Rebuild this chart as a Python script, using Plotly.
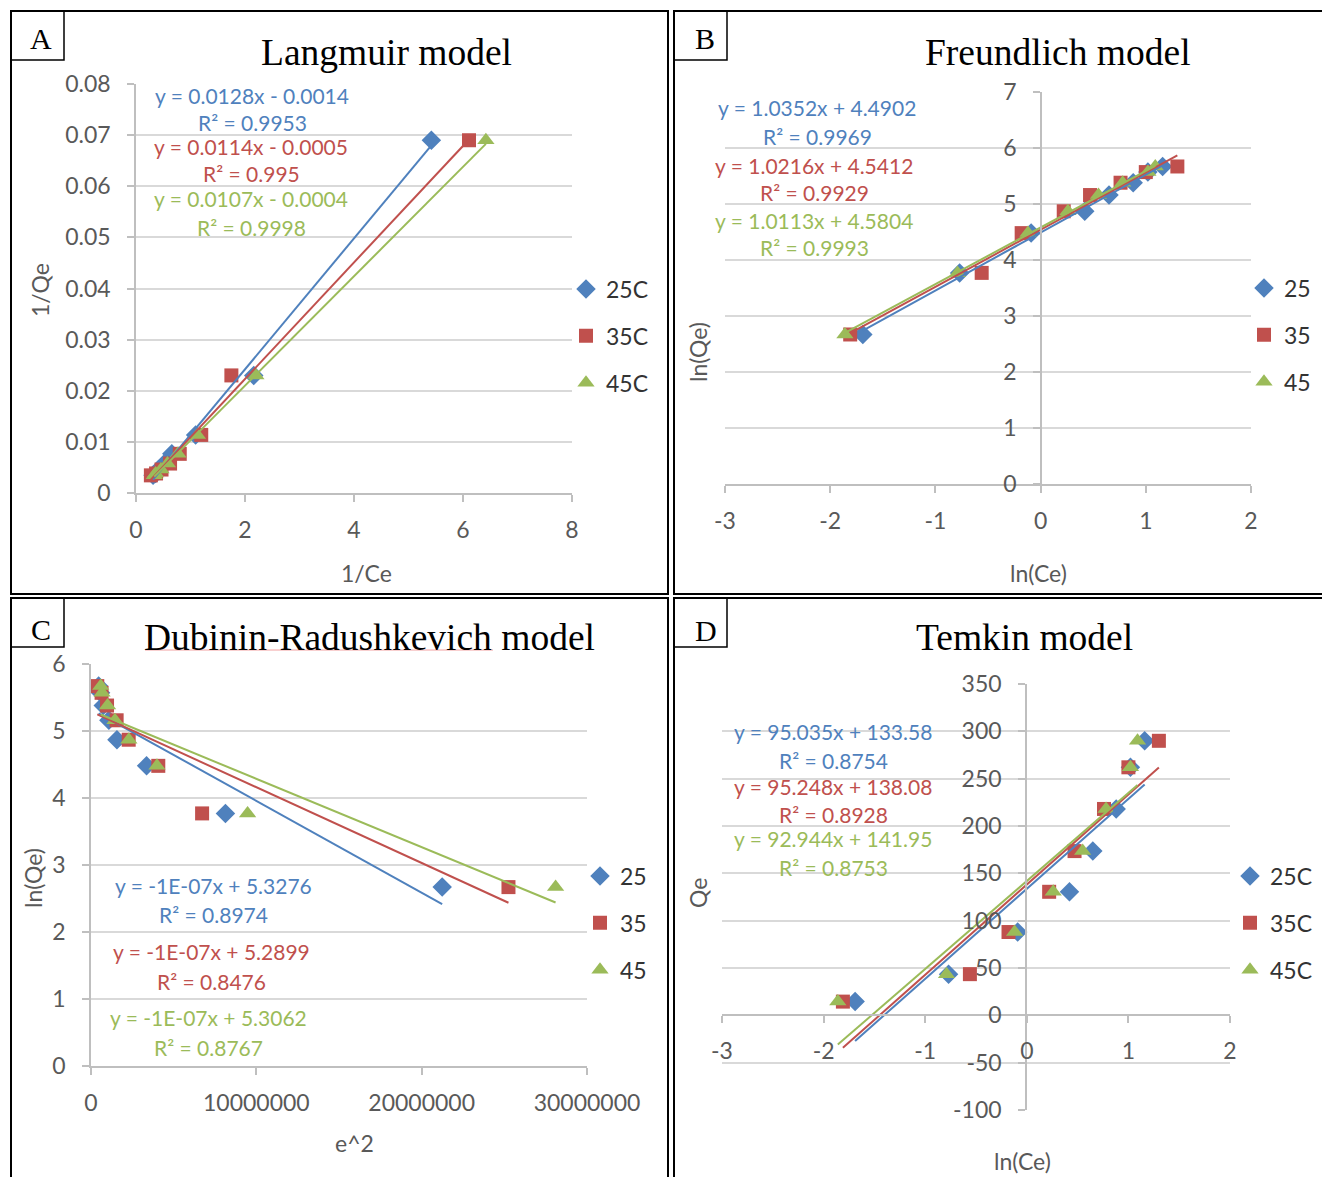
import plotly.graph_objects as go

W, H = 1322, 1177

# ---------------------------------------------------------------------------
# Data
# ---------------------------------------------------------------------------
series_names_c = ["25C", "35C", "45C"]
series_names = ["25", "35", "45"]
colors = ["#4F81BD", "#C0504D", "#9BBB59"]
symbols = ["diamond", "square", "triangle-up"]
marker_sizes = [15, 14, 15]

# Langmuir: 1/Ce vs 1/Qe
inv_ce_25 = [5.42, 2.16, 1.094, 0.657, 0.522, 0.415, 0.361, 0.313]
inv_ce_35 = [6.11, 1.75, 1.197, 0.803, 0.625, 0.468, 0.368, 0.273]
inv_ce_45 = [6.42, 2.20, 1.127, 0.771, 0.577, 0.458, 0.361, 0.336]
inv_qe = [0.0690, 0.0230, 0.01136, 0.00766, 0.00576, 0.00459, 0.00382, 0.00345]

# Freundlich / Temkin: ln(Ce)
ln_ce_25 = [-1.69, -0.77, -0.09, 0.42, 0.65, 0.88, 1.02, 1.16]
ln_ce_35 = [-1.81, -0.56, -0.18, 0.22, 0.47, 0.76, 1.00, 1.30]
ln_ce_45 = [-1.86, -0.79, -0.12, 0.26, 0.55, 0.78, 1.02, 1.09]
ln_qe = [2.67, 3.77, 4.48, 4.87, 5.16, 5.38, 5.57, 5.67]
qe = [14.5, 43.5, 88, 130.5, 173.5, 218, 262, 290]

# Dubinin-Radushkevich: epsilon^2
eps2_25 = [21.24e6, 8.13e6, 3.36e6, 1.57e6, 1.08e6, 0.74e6, 0.58e6, 0.46e6]
eps2_35 = [25.25e6, 6.72e6, 4.07e6, 2.28e6, 1.55e6, 0.97e6, 0.64e6, 0.38e6]
eps2_45 = [28.10e6, 9.47e6, 3.99e6, 2.29e6, 1.45e6, 1.00e6, 0.67e6, 0.59e6]

# Linear fits (slope, intercept, R^2)
lang_slope = [0.0128, 0.0114, 0.0107]
lang_icpt = [-0.0014, -0.0005, -0.0004]
lang_r2 = ["0.9953", "0.995", "0.9998"]

freu_slope = [1.0352, 1.0216, 1.0113]
freu_icpt = [4.4902, 4.5412, 4.5804]
freu_r2 = ["0.9969", "0.9929", "0.9993"]

dr_slope = [-1.37e-7, -1.13e-7, -1.02e-7]
dr_icpt = [5.3276, 5.2899, 5.3062]
dr_r2 = ["0.8974", "0.8476", "0.8767"]

tem_slope = [95.035, 95.248, 92.944]
tem_icpt = [133.58, 138.08, 141.95]
tem_r2 = ["0.8754", "0.8928", "0.8753"]

# Tick labels
a_xticks = [0, 2, 4, 6, 8]
a_yticks = [0, 0.01, 0.02, 0.03, 0.04, 0.05, 0.06, 0.07, 0.08]
a_yticktext = ["0", "0.01", "0.02", "0.03", "0.04", "0.05", "0.06", "0.07", "0.08"]
b_xticks = [-3, -2, -1, 0, 1, 2]
b_xticktext = ["-3", "-2", "-1", "0", "1", "2"]
b_yticks = [0, 1, 2, 3, 4, 5, 6, 7]
c_xticks = [0, 10000000, 20000000, 30000000]
c_xticktext = ["0", "10000000", "20000000", "30000000"]
c_yticks = [0, 1, 2, 3, 4, 5, 6]
d_xticks = [-3, -2, -1, 0, 1, 2]
d_xticktext = ["-3", "-2", "-1", "0", "1", "2"]
d_yticks = [-100, -50, 0, 50, 100, 150, 200, 250, 300, 350]
d_yticktext = ["-100", "-50", "0", "50", "100", "150", "200", "250", "300", "350"]


# ---------------------------------------------------------------------------
# Helpers for pixel -> paper conversion
# ---------------------------------------------------------------------------
def px(x):
    return x / W


def py(y):
    return 1 - y / H


SANS = "Lato"
TICK_FONT = dict(family=SANS, size=23, color="#595959")
EQ_SIZE = 21
LABEL_SIZE = 23
GRID = "#D9D9D9"
AXLINE = "#BFBFBF"


def fmt_num(v):
    return f"{v:.0E}" if abs(v) < 1e-4 else str(v)


def eq_text(m, b):
    sign = "-" if b < 0 else "+"
    return f"y = {fmt_num(m)}x {sign} {fmt_num(abs(b))}"


fig = go.Figure()


def add_panel(k, xs, ys, slopes, icpts, names, legend_id):
    xa = "x" if k == 1 else f"x{k}"
    ya = "y" if k == 1 else f"y{k}"
    for i in range(3):
        fig.add_trace(go.Scatter(
            x=xs[i], y=ys[i], mode="markers", name=names[i],
            marker=dict(symbol=symbols[i], size=marker_sizes[i], color=colors[i],
                        line=dict(width=0)),
            xaxis=xa, yaxis=ya, legend=legend_id, legendgroup=f"{legend_id}_{i}",
        ))
    for i in range(3):
        lo, hi = min(xs[i]), max(xs[i])
        fig.add_trace(go.Scatter(
            x=[lo, hi], y=[slopes[i] * lo + icpts[i], slopes[i] * hi + icpts[i]],
            mode="lines", line=dict(color=colors[i], width=2),
            xaxis=xa, yaxis=ya, showlegend=False, hoverinfo="skip",
        ))


add_panel(1, [inv_ce_25, inv_ce_35, inv_ce_45], [inv_qe] * 3,
          lang_slope, lang_icpt, series_names_c, "legend")
add_panel(2, [ln_ce_25, ln_ce_35, ln_ce_45], [ln_qe] * 3,
          freu_slope, freu_icpt, series_names, "legend2")
add_panel(3, [eps2_25, eps2_35, eps2_45], [ln_qe] * 3,
          dr_slope, dr_icpt, series_names, "legend3")
add_panel(4, [ln_ce_25, ln_ce_35, ln_ce_45], [qe] * 3,
          tem_slope, tem_icpt, series_names_c, "legend4")

common_ax = dict(showline=True, linecolor=AXLINE, linewidth=1.5, ticks="outside",
                 ticklen=7, tickcolor=AXLINE, tickwidth=1.5, tickfont=TICK_FONT,
                 zeroline=False, fixedrange=True, automargin=False)

# Panel A
fig.update_layout(
    xaxis=dict(domain=[px(136), px(572)], range=[0, 8], tickvals=a_xticks,
               showgrid=False, anchor="y", ticklabelstandoff=9, **common_ax),
    yaxis=dict(domain=[py(493), py(84)], range=[0, 0.08], tickvals=a_yticks,
               ticktext=a_yticktext, showgrid=True, gridcolor=GRID, gridwidth=1.5,
               anchor="x", ticklabelstandoff=12, **common_ax),
)
# Panel B
fig.update_layout(
    xaxis2=dict(domain=[px(725), px(1251)], range=[-3, 2], tickvals=b_xticks,
                ticktext=b_xticktext, showgrid=False, anchor="y2",
                ticklabelstandoff=9, **common_ax),
    yaxis2=dict(domain=[py(484), py(92)], range=[0, 7], tickvals=b_yticks,
                showgrid=True, gridcolor=GRID, gridwidth=1.5, anchor="free",
                position=px(1041), ticklabelstandoff=12, **common_ax),
)
# Panel C
fig.update_layout(
    xaxis3=dict(domain=[px(91), px(587)], range=[0, 30000000], tickvals=c_xticks,
                ticktext=c_xticktext, showgrid=False, anchor="y3",
                ticklabelstandoff=9, **common_ax),
    yaxis3=dict(domain=[py(1066), py(664)], range=[0, 6], tickvals=c_yticks,
                showgrid=True, gridcolor=GRID, gridwidth=1.5, anchor="x3",
                ticklabelstandoff=12, **common_ax),
)
# Panel D
fig.update_layout(
    xaxis4=dict(domain=[px(722), px(1230)], range=[-3, 2], tickvals=d_xticks,
                ticktext=d_xticktext, showgrid=False, anchor="free",
                position=py(1015), ticklabelstandoff=9, **common_ax),
    yaxis4=dict(domain=[py(1110), py(684)], range=[-100, 350], tickvals=d_yticks,
                ticktext=d_yticktext, showgrid=True, gridcolor=GRID, gridwidth=1.5,
                anchor="free", position=px(1026), ticklabelstandoff=12, **common_ax),
)

# Legends
leg_common = dict(font=dict(family=SANS, size=23, color="#333333"),
                  bgcolor="rgba(0,0,0,0)", xanchor="left", yanchor="middle",
                  tracegroupgap=14, itemsizing="trace")
fig.update_layout(
    legend=dict(x=px(566), y=py(336), **leg_common),
    legend2=dict(x=px(1244), y=py(335), **leg_common),
    legend3=dict(x=px(580), y=py(923), **leg_common),
    legend4=dict(x=px(1230), y=py(923), **leg_common),
)

annotations = []


def add_text(x, y, text, size, color, family=SANS, angle=0):
    annotations.append(dict(x=px(x), y=py(y), xref="paper", yref="paper", text=text,
                            showarrow=False, xanchor="center", yanchor="middle",
                            textangle=angle,
                            font=dict(family=family, size=size, color=color)))


# Equations and R^2 values
eq_pos = {
    "A": [(252, 95, 123), (251, 146, 174), (251, 198, 227)],
    "B": [(817, 107, 136), (814, 165, 193), (814, 220, 248)],
    "C": [(213, 885, 914), (211, 951, 981), (208, 1018, 1047)],
    "D": [(833, 731, 760), (833, 786, 814), (833, 838, 867)],
}
fits = {
    "A": (lang_slope, lang_icpt, lang_r2),
    "B": (freu_slope, freu_icpt, freu_r2),
    "C": (dr_slope, dr_icpt, dr_r2),
    "D": (tem_slope, tem_icpt, tem_r2),
}
for key, (sl, ic, r2) in fits.items():
    for i in range(3):
        x, y1, y2 = eq_pos[key][i]
        add_text(x, y1, eq_text(sl[i], ic[i]), EQ_SIZE, colors[i])
        add_text(x, y2, f"R² = {r2[i]}", EQ_SIZE, colors[i])

# Axis titles
add_text(366, 573, "1/Ce", LABEL_SIZE, "#595959")
add_text(40, 290, "1/Qe", LABEL_SIZE, "#595959", angle=-90)
add_text(1038, 573, "ln(Ce)", LABEL_SIZE, "#595959")
add_text(698, 352, "ln(Qe)", LABEL_SIZE, "#595959", angle=-90)
add_text(354, 1143, "e^2", LABEL_SIZE, "#595959")
add_text(33, 878, "ln(Qe)", LABEL_SIZE, "#595959", angle=-90)
add_text(1022, 1161, "ln(Ce)", LABEL_SIZE, "#595959")
add_text(698, 893, "Qe", LABEL_SIZE, "#595959", angle=-90)

# Panel titles and letters
SERIF = "Liberation Serif"
add_text(387, 52, "Langmuir model", 37.5, "#000000", SERIF)
add_text(1058, 52, "Freundlich model", 37.5, "#000000", SERIF)
add_text(369, 638, "Dubinin-Radushkevich model", 37.5, "#000000", SERIF)
add_text(1024, 638, "Temkin model", 37.5, "#000000", SERIF)
add_text(41, 39, "A", 30, "#000000", SERIF)
add_text(705, 39, "B", 30, "#000000", SERIF)
add_text(41, 629, "C", 30, "#000000", SERIF)
add_text(706, 630, "D", 30, "#000000", SERIF)

shapes = []


def rect(x0, y0, x1, y1, width=2):
    shapes.append(dict(type="rect", xref="paper", yref="paper",
                       x0=px(x0), x1=px(x1), y0=py(y0), y1=py(y1),
                       line=dict(color="#000000", width=width),
                       fillcolor="rgba(0,0,0,0)"))


# Panel frames and letter boxes
rect(11, 11, 668, 594)
rect(674, 11, 1324, 594)
rect(11, 598, 668, 1180)
rect(674, 598, 1324, 1180)
rect(11, 11, 64, 60, 1.5)
rect(674, 11, 727, 60, 1.5)
rect(11, 598, 64, 647, 1.5)
rect(674, 598, 727, 647, 1.5)

# spell-check style underline below the compound name
shapes.append(dict(type="line", xref="paper", yref="paper",
                   x0=px(145), x1=px(493), y0=py(650), y1=py(650),
                   line=dict(color="#F2A0A0", width=1)))

fig.update_layout(
    width=W, height=H, margin=dict(l=0, r=0, t=0, b=0, autoexpand=False),
    paper_bgcolor="white", plot_bgcolor="white",
    annotations=annotations, shapes=shapes,
)

fig.write_html(
    "out.html",
    config={"displayModeBar": False},
    post_script="document.body.style.margin='0';",
)
